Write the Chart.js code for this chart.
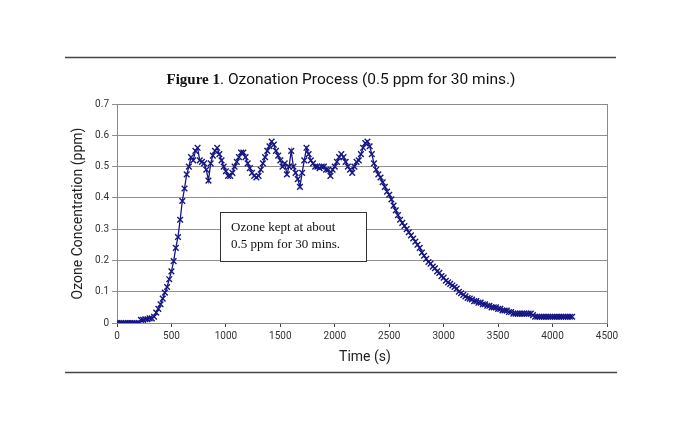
<!DOCTYPE html>
<html>
<head>
<meta charset="utf-8">
<script src="https://cdn.jsdelivr.net/npm/chart.js@4.4.1/dist/chart.umd.min.js"></script>
<style>
  html, body { margin: 0; padding: 0; background: #fff; }
  #wrap { width: 680px; height: 432px; position: relative; }
</style>
</head>
<body>
<div id="wrap"><canvas id="c" width="680" height="432"></canvas></div>
<script>
// ---- data ----
// one reading every 20 s, starting at t = 0
const SAMPLE_STEP = 20;
const ozonePpm = [
  0, 0, 0, 0, 0, 0, 0, 0, 0, 0,
  0, 0.01, 0.01, 0.012, 0.012, 0.015, 0.015, 0.02, 0.033, 0.045,
  0.06, 0.078, 0.097, 0.115, 0.14, 0.165, 0.198, 0.24, 0.275, 0.33,
  0.39, 0.43, 0.475, 0.50, 0.53, 0.52, 0.55, 0.56, 0.52, 0.515,
  0.51, 0.49, 0.455, 0.51, 0.535, 0.55, 0.56, 0.54, 0.52, 0.50,
  0.485, 0.47, 0.47, 0.48, 0.50, 0.515, 0.53, 0.545, 0.545, 0.53,
  0.51, 0.495, 0.48, 0.47, 0.465, 0.47, 0.49, 0.51, 0.53, 0.55,
  0.565, 0.58, 0.57, 0.55, 0.535, 0.52, 0.50, 0.51, 0.475, 0.50,
  0.55, 0.50, 0.48, 0.46, 0.435, 0.48, 0.52, 0.56, 0.54, 0.52,
  0.51, 0.50, 0.50, 0.495, 0.50, 0.50, 0.49, 0.49, 0.47, 0.49,
  0.50, 0.515, 0.53, 0.54, 0.53, 0.515, 0.50, 0.49, 0.48, 0.50,
  0.515, 0.52, 0.54, 0.56, 0.575, 0.58, 0.565, 0.54, 0.51, 0.49,
  0.475, 0.465, 0.45, 0.435, 0.42, 0.41, 0.395, 0.375, 0.36, 0.345,
  0.33, 0.32, 0.31, 0.30, 0.29, 0.28, 0.27, 0.26, 0.25, 0.24,
  0.225, 0.215, 0.205, 0.195, 0.19, 0.18, 0.175, 0.165, 0.16, 0.15,
  0.145, 0.135, 0.13, 0.125, 0.12, 0.115, 0.11, 0.10, 0.095, 0.09,
  0.085, 0.08, 0.078, 0.075, 0.07, 0.07, 0.065, 0.065, 0.06, 0.06,
  0.055, 0.055, 0.05, 0.05, 0.05, 0.045, 0.045, 0.04, 0.04, 0.04,
  0.035, 0.035, 0.03, 0.03, 0.03, 0.03, 0.03, 0.03, 0.03, 0.03,
  0.03, 0.025, 0.02, 0.02, 0.02, 0.02, 0.02, 0.02, 0.02, 0.02,
  0.02, 0.02, 0.02, 0.02, 0.02, 0.02, 0.02, 0.02, 0.02, 0.02
];
const xTicks = [0, 500, 1000, 1500, 2000, 2500, 3000, 3500, 4000, 4500];
const yTicks = [0, 0.1, 0.2, 0.3, 0.4, 0.5, 0.6, 0.7];
const titleBold = 'Figure 1';
const titleRest = '. Ozonation Process (0.5 ppm for 30 mins.)';
const xTitle = 'Time (s)';
const yTitle = 'Ozone Concentration (ppm)';
const noteLines = ['Ozone kept at about', '0.5 ppm for 30 mins.'];

const points = ozonePpm.map((v, i) => ({ x: i * SAMPLE_STEP, y: v }));

const NAVY = '#161684';
const SANS = 'Roboto, "Noto Sans", sans-serif';
const SERIF = '"Liberation Serif", "DejaVu Serif", serif';

// rules, titles, plot frame and the text box
const decor = {
  id: 'decor',
  beforeDatasetsDraw(chart) {
    const { ctx, chartArea: a } = chart;
    ctx.save();
    ctx.strokeStyle = '#8a8a8a';
    ctx.lineWidth = 1;
    ctx.strokeRect(a.left + 0.5, a.top + 0.5, a.right - a.left, a.bottom - a.top);
    ctx.restore();
  },
  afterDraw(chart) {
    const { ctx, chartArea: a } = chart;
    ctx.save();
    // horizontal rules above and below the figure
    ctx.strokeStyle = '#444';
    ctx.lineWidth = 1.5;
    ctx.beginPath();
    ctx.moveTo(65, 57.5); ctx.lineTo(616, 57.5);
    ctx.moveTo(65, 372.5); ctx.lineTo(617, 372.5);
    ctx.stroke();

    // figure title, mixed fonts
    ctx.fillStyle = '#111';
    ctx.textBaseline = 'alphabetic';
    ctx.font = 'bold 15px ' + SERIF;
    const w1 = ctx.measureText(titleBold).width;
    ctx.font = '15.5px ' + SANS;
    const w2 = ctx.measureText(titleRest).width;
    const x0 = 341 - (w1 + w2) / 2;
    ctx.font = 'bold 15px ' + SERIF;
    ctx.fillText(titleBold, x0, 84);
    ctx.font = '15.5px ' + SANS;
    ctx.fillText(titleRest, x0 + w1, 84);

    // axis titles
    ctx.fillStyle = '#222';
    ctx.font = '14px ' + SANS;
    ctx.textAlign = 'center';
    ctx.fillText(xTitle, 365, 361);
    ctx.save();
    ctx.translate(82, (a.top + a.bottom) / 2);
    ctx.rotate(-Math.PI / 2);
    ctx.fillText(yTitle, 0, 0);
    ctx.restore();

    // annotation box
    ctx.fillStyle = '#fff';
    ctx.fillRect(220, 212, 146, 49);
    ctx.strokeStyle = '#333';
    ctx.lineWidth = 1;
    ctx.strokeRect(220.5, 212.5, 146, 49);
    ctx.fillStyle = '#111';
    ctx.textAlign = 'left';
    ctx.font = '13px ' + SERIF;
    ctx.fillText(noteLines[0], 231, 231);
    ctx.fillText(noteLines[1], 231, 248);
    ctx.restore();
  }
};

new Chart(document.getElementById('c'), {
  type: 'scatter',
  data: {
    datasets: [{
      data: points,
      showLine: true,
      borderColor: NAVY,
      borderWidth: 1.3,
      pointStyle: 'crossRot',
      pointRadius: 4,
      pointBorderWidth: 1.4,
      pointBorderColor: NAVY,
      pointBackgroundColor: NAVY,
      tension: 0
    }]
  },
  options: {
    responsive: false,
    animation: false,
    events: [],
    layout: { padding: { left: 87, right: 73, top: 104, bottom: 89 } },
    plugins: { legend: { display: false }, tooltip: { enabled: false }, title: { display: false } },
    scales: {
      x: {
        type: 'linear',
        min: 0, max: 4500,
        afterBuildTicks: s => { s.ticks = xTicks.map(v => ({ value: v })); },
        afterFit: s => { s.height = 20; },
        grid: { drawOnChartArea: false, drawTicks: true, tickLength: 4, color: '#444' },
        border: { display: true, color: '#444', width: 1 },
        ticks: { color: '#333', font: { family: SANS, size: 10 }, padding: 3, maxRotation: 0, callback: v => String(v) }
      },
      y: {
        min: 0, max: 0.7,
        afterBuildTicks: s => { s.ticks = yTicks.map(v => ({ value: v })); },
        afterFit: s => { s.width = 30; },
        grid: { color: '#8f8f8f', drawTicks: true, tickLength: 5, lineWidth: 1 },
        border: { display: true, color: '#444', width: 1 },
        ticks: { color: '#333', font: { family: SANS, size: 10 }, padding: 3, callback: v => v === 0 ? '0' : v.toFixed(1) }
      }
    }
  },
  plugins: [decor]
});
</script>
</body>
</html>
